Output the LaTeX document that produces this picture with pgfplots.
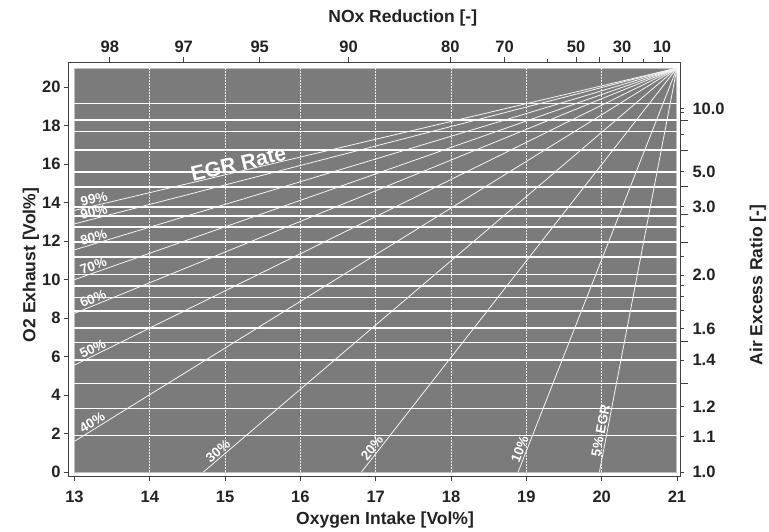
\documentclass[border=0pt]{standalone}
\usepackage{fontspec}
\setmainfont{Liberation Sans}
\usepackage{pgfplots}
\pgfplotsset{compat=1.18}
\definecolor{bgray}{HTML}{7B7B7B}
\definecolor{txt}{HTML}{222222}
\tikzset{lbl/.style={sloped, above, inner sep=1.5pt, text=white, font=\fontsize{13.5}{13.5}\selectfont\bfseries}}
\begin{document}
\begin{tikzpicture}[x=1pt,y=1pt]
\useasboundingbox (0,0) rectangle (769,532);
\pgfplotsset{
  common/.style={
    at={(68pt,55.3pt)}, anchor=south west,
    scale only axis, width=612pt, height=414.4pt,
    xmin=12.914, xmax=21.04, ymin=-0.24, ymax=21.3,
    tick align=outside,
    ticklabel style={font=\fontsize{16.5}{16.5}\selectfont\bfseries, text=txt},
    /pgf/number format/assume math mode=true,
    label style={font=\fontsize{17.5}{17.5}\selectfont\bfseries, text=txt},
    axis line style={black!75, line width=0.8pt},
    tick style={black!75, line width=0.8pt},
  },
  hline/.style={white, line width=1.5pt, forget plot},
  vline/.style={white!85!bgray, line width=1pt, dash pattern=on 2pt off 1pt, forget plot},
  diag/.style={white!92!bgray, line width=0.8pt, forget plot},
}
% main axis: bottom and left
\begin{axis}[common,
  xtick={13,...,21}, ytick={0,2,...,20},
  xtick pos=left, ytick pos=left,
  major tick length=4pt,
  xticklabel shift=7pt, yticklabel shift=0pt,
  xlabel={Oxygen Intake [Vol\%]},
  ylabel={O2 Exhaust [Vol\%]},
  xlabel style={at={(axis description cs:0.518,-0.1045)}, anchor=center},
  ylabel style={at={(axis description cs:-0.0605,0.511)}, anchor=center, rotate=0},
]
\addplot[fill=bgray, draw=white!75!black, line width=1pt, forget plot] coordinates {(13,0) (21,0) (21,21) (13,21) (13,0)};
\pgfplotsinvokeforeach{14,15,16,17,18,19,20}{
  \addplot[vline] coordinates {(#1,0) (#1,21)};
}
\pgfplotsinvokeforeach{19.16,18.30,17.69,16.74,15.61,14.83,13.79,13.31,12.75,11.97,11.19,10.27,9.67,9.08,8.38,7.50,6.74,5.82,4.61,3.31,1.89}{
  \addplot[hline] coordinates {(13,#1) (21,#1)};
}
\addplot[diag] coordinates {(13,13.6) (21,21)} node[lbl,pos=0.035]{99\%}
  node[sloped, above, pos=0.275, inner sep=0pt, text=white, font=\fontsize{21}{21}\selectfont\bfseries]{EGR Rate};
\addplot[diag] coordinates {(13,12.9) (21,21)} node[lbl,pos=0.035]{90\%};
\addplot[diag] coordinates {(13,11.55) (21,21)} node[lbl,pos=0.035]{80\%};
\addplot[diag] coordinates {(13,10.0) (21,21)} node[lbl,pos=0.035]{70\%};
\addplot[diag] coordinates {(13,8.25) (21,21)} node[lbl,pos=0.035]{60\%};
\addplot[diag] coordinates {(13,5.56) (21,21)} node[lbl,pos=0.035]{50\%};
\addplot[diag] coordinates {(13,1.6) (21,21)} node[lbl,pos=0.035]{40\%};
\addplot[diag] coordinates {(14.71,0) (21,21)} node[lbl,pos=0.04]{30\%};
\addplot[diag] coordinates {(16.81,0) (21,21)} node[lbl,pos=0.05]{20\%};
\addplot[diag] coordinates {(18.89,0) (21,21)} node[lbl,pos=0.05]{10\%};
\addplot[diag] coordinates {(19.97,0) (21,21)} node[lbl,pos=0.10]{5\% EGR};
\end{axis}
% top axis: NOx reduction
\begin{axis}[common,
  axis x line*=top, axis y line=none,
  xtick={13.47,14.45,15.46,16.64,17.99,18.71,19.66,19.97,20.27,20.8},
  xticklabels={98,97,95,90,80,70,50,,30,10},
  minor xtick={19.28,20.55},
  major tick length=5pt, minor tick length=3.5pt,
  xticklabel shift=1pt,
  xlabel={NOx Reduction [-]},
  xlabel style={at={(axis description cs:0.547,1.107)}, anchor=center},
]
\end{axis}
% right axis: air excess ratio
\begin{axis}[common,
  axis y line*=right, axis x line=none,
  ytick={18.90,15.61,13.79,10.24,7.47,5.82,3.39,1.84,0},
  yticklabels={10.0,5.0,3.0,2.0,1.6,1.4,1.2,1.1,1.0},
  minor ytick={18.68,17.57,12.75,11.19,9.72,9.11,8.42},
  extra y ticks={18.30,16.74,14.86,13.41,11.92,6.77,4.61},
  extra y tick labels={},
  extra y tick style={major tick length=8pt},
  major tick length=4pt, minor tick length=4pt,
  yticklabel shift=5pt,
  ylabel={Air Excess Ratio [-]},
  ylabel style={at={(axis description cs:1.127,0.4626)}, anchor=center, rotate=0},
]
\end{axis}
\end{tikzpicture}
\end{document}
